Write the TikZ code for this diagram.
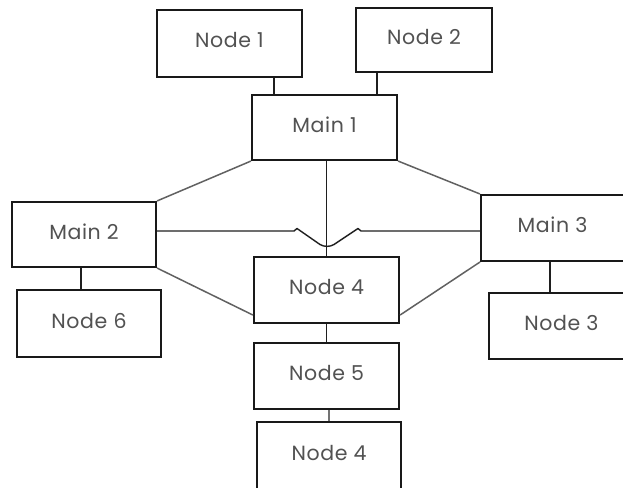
\documentclass[tikz,border=0pt]{standalone}
\usepackage{fontspec}
\setmainfont[LetterSpace=3]{Poppins}
\begin{document}
\begin{tikzpicture}[x=1pt,y=-1pt,
  box/.style={draw=black!90, line width=2.1pt, fill=white, inner sep=0pt,
    text=black!68, font=\fontsize{20.5}{20.5}\selectfont,
    text height=15pt, text depth=6pt},
  conn/.style={draw=black!88, line width=1.7pt},
  thin/.style={draw=black!55, line width=1.2pt},
  diag/.style={draw=black!62, line width=1.5pt}]
\path[use as bounding box, clip] (0,0) rectangle (623,487);
\fill[white] (0,0) rectangle (623,487);

\node[box, minimum width=145pt, minimum height=67pt] (n1) at (229.5,43.5) {Node 1};
\node[box, minimum width=136pt, minimum height=64pt] (n2) at (424,40) {Node 2};
\node[box, minimum width=145pt, minimum height=65pt] (m1) at (324.5,127.5) {Main 1};
\node[box, minimum width=144pt, minimum height=65pt] (m2) at (84,234.5) {Main 2};
\node[box, minimum width=144pt, minimum height=67pt] (n6) at (89,323.5) {Node 6};
\node[box, minimum width=143pt, minimum height=66pt] (m3) at (552.5,228) {Main 3};
\node[box, minimum width=145pt, minimum height=66pt] (n3) at (561.5,326) {Node 3};
\node[box, minimum width=145pt, minimum height=66pt] (n4) at (326.5,290) {Node 4};
\node[box, minimum width=145pt, minimum height=66pt] (n5) at (326.5,376) {Node 5};
\node[box, minimum width=144pt, minimum height=67pt] (n4b) at (329,455.5) {Node 4};

% top connectors
\draw[conn] ([xshift=44.5pt]n1.south) -- ([xshift=44.5pt]n1.south |- m1.north);
\draw[conn] ([xshift=-47pt]n2.south) -- ([xshift=-47pt]n2.south |- m1.north);
% central vertical
\draw[conn] (n4.north |- m1.south) -- (n4.north);
% horizontal with jump
\coordinate (hl) at (m2.east |- 0,231);
\coordinate (hr) at (m3.west |- 0,231);
\draw[conn, line width=1.4pt, line join=round]
  (hl) -- (294,231) -- (297,228.5) -- (320,244.5)
  .. controls (324,247) and (330,247) .. (334,244.5)
  -- (358,228.5) -- (361,231) -- (hr);
% diagonals
\draw[diag] (m1.south west) -- (m2.north east);
\draw[diag] (m1.south east) -- (m3.north west);
\draw[diag] (m2.south east) -- ([yshift=9pt]n4.south west);
\draw[diag] ([yshift=9pt]n4.south east) -- (m3.south west);
% side connectors
\draw[conn] ([xshift=-3pt]m2.south) -- ([xshift=-3pt]m2.south |- n6.north);
\draw[conn] ([xshift=-2.5pt]m3.south) -- ([xshift=-2.5pt]m3.south |- n3.north);
% lower column
\draw[conn] (n4.south) -- (n5.north);
\draw[thin] (n4b.north |- n5.south) -- (n4b.north);
\end{tikzpicture}
\end{document}
